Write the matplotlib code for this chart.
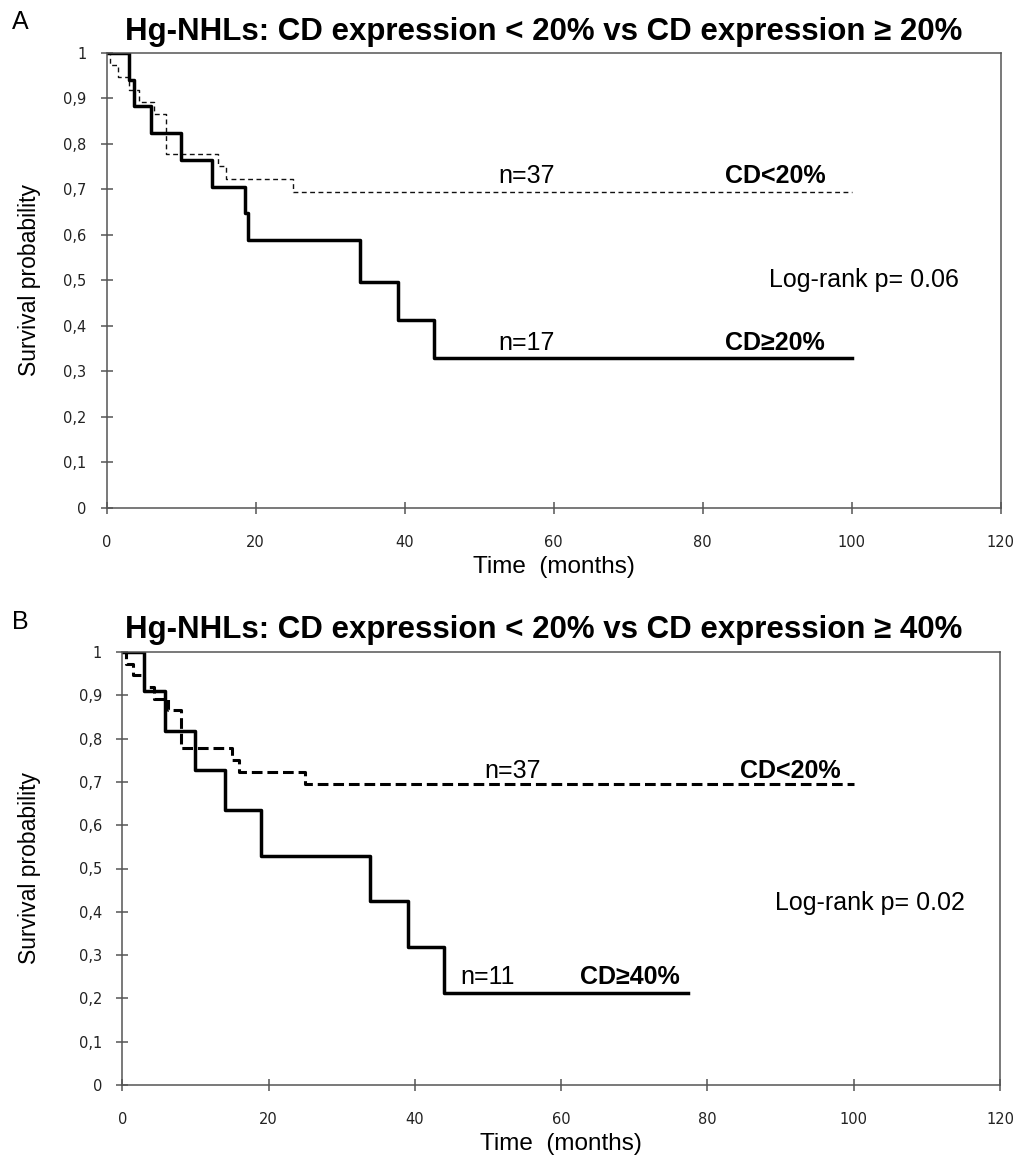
import matplotlib
matplotlib.use("Agg")
import matplotlib.pyplot as plt
from matplotlib.ticker import FixedLocator

plt.rcParams['font.family'] = ['Liberation Sans', 'DejaVu Sans']

# --- data ---
# CD < 20% group (n=37), same group in both panels
t_low = [0, 0.5, 1.5, 3.0, 4.3, 6.3, 8.0, 15.0, 16.0, 25.0, 100]
s_low = [1, 0.973, 0.946, 0.919, 0.892, 0.865, 0.778, 0.751, 0.722, 0.695, 0.695]

# panel A: CD >= 20% (n=17)
t_a = [0, 3.0, 3.6, 6.0, 10.0, 14.1, 18.5, 19.0, 34.0, 39.1, 43.9, 100]
s_a = [1, 0.941, 0.882, 0.824, 0.765, 0.706, 0.647, 0.588, 0.496, 0.413, 0.330, 0.330]

# panel B: CD >= 40% (n=11)
t_b = [0, 2.9, 5.9, 10.0, 14.1, 19.0, 33.9, 39.0, 44.0, 77.4]
s_b = [1, 0.909, 0.818, 0.727, 0.636, 0.530, 0.424, 0.318, 0.212, 0.212]

xticks = [0, 20, 40, 60, 80, 100, 120]
yticks = [0, 0.1, 0.2, 0.3, 0.4, 0.5, 0.6, 0.7, 0.8, 0.9, 1.0]
ylabels = ['0', '0,1', '0,2', '0,3', '0,4', '0,5', '0,6', '0,7', '0,8', '0,9', '1']

W, H = 1017, 1166
fig = plt.figure(figsize=(W / 100, H / 100), dpi=100)
TXT = 18


def px_axes(l, t, r, b):
    return fig.add_axes([l / W, 1 - b / H, (r - l) / W, (b - t) / H])


def style(ax):
    ax.set_xlim(0, 120)
    ax.set_ylim(0, 1)
    ax.xaxis.set_major_locator(FixedLocator(xticks))
    ax.yaxis.set_major_locator(FixedLocator(yticks))
    ax.set_yticklabels(ylabels)
    for s in ax.spines.values():
        s.set_color('#555555')
        s.set_linewidth(1.1)
    ax.tick_params(direction='inout', length=9, width=1.1, color='#555555',
                   labelsize=10.5, labelcolor='#222222')
    ax.tick_params(axis='y', pad=10)
    ax.tick_params(axis='x', pad=15)
    for lab in ax.get_xticklabels() + ax.get_yticklabels():
        lab.set_family(['DejaVu Sans'])
    ax.set_xlabel('Time  (months)', fontsize=17.5, labelpad=4)


# ---------- Panel A ----------
axA = px_axes(106.7, 52.7, 1000.7, 508)
style(axA)
axA.step(t_low, s_low, where='post', color='#111111', lw=1.0,
         linestyle=(0, (3.5, 2.5)))
axA.step(t_a, s_a, where='post', color='black', lw=2.5)
axA.text(56.3, 0.703, 'n=37', fontsize=TXT, ha='center', va='bottom')
axA.text(56.3, 0.336, 'n=17', fontsize=TXT, ha='center', va='bottom')
axA.text(89.7, 0.703, 'CD<20%', fontsize=TXT, fontweight='bold', ha='center', va='bottom')
axA.text(89.7, 0.336, 'CD≥20%', fontsize=TXT, fontweight='bold', ha='center', va='bottom')
axA.text(101.6, 0.50, 'Log-rank p= 0.06', fontsize=TXT, ha='center', va='center')

fig.text(544 / W, 1 - 32 / H, 'Hg-NHLs: CD expression < 20% vs CD expression ≥ 20%',
         fontsize=22.5, fontweight='bold', ha='center', va='center',
         family=['Liberation Sans Narrow', 'Liberation Sans', 'DejaVu Sans'])
fig.text(12 / W, 1 - 22 / H, 'A', fontsize=18, ha='left', va='center')
fig.text(30 / W, 1 - 280 / H, 'Survival probability', fontsize=16.5,
         rotation=90, ha='center', va='center')

# ---------- Panel B ----------
axB = px_axes(122.3, 652, 1000, 1085)
style(axB)
axB.step(t_low, s_low, where='post', color='black', lw=2.2,
         linestyle=(0, (3.5, 1.6)))
axB.step(t_b, s_b, where='post', color='black', lw=2.5)
axB.text(53.3, 0.698, 'n=37', fontsize=TXT, ha='center', va='bottom')
axB.text(49.9, 0.222, 'n=11', fontsize=TXT, ha='center', va='bottom')
axB.text(91.3, 0.698, 'CD<20%', fontsize=TXT, fontweight='bold', ha='center', va='bottom')
axB.text(69.4, 0.222, 'CD≥40%', fontsize=TXT, fontweight='bold', ha='center', va='bottom')
axB.text(102.2, 0.42, 'Log-rank p= 0.02', fontsize=TXT, ha='center', va='center')

fig.text(544 / W, 1 - 630 / H, 'Hg-NHLs: CD expression < 20% vs CD expression ≥ 40%',
         fontsize=22.5, fontweight='bold', ha='center', va='center',
         family=['Liberation Sans Narrow', 'Liberation Sans', 'DejaVu Sans'])
fig.text(12 / W, 1 - 622 / H, 'B', fontsize=18, ha='left', va='center')
fig.text(30 / W, 1 - 868 / H, 'Survival probability', fontsize=16.5,
         rotation=90, ha='center', va='center')

fig.savefig('out.png', dpi=100)
